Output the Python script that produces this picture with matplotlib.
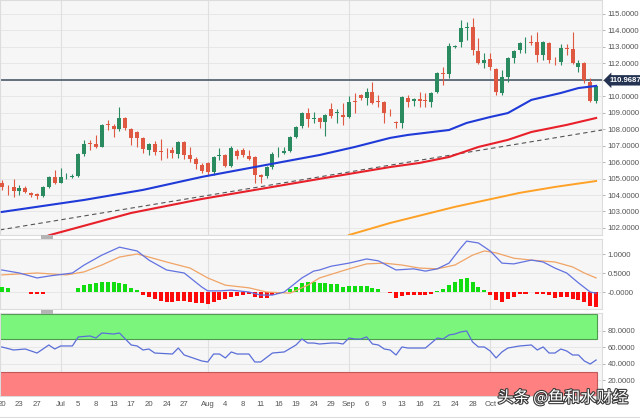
import numpy as np
import matplotlib
matplotlib.use("Agg")
import matplotlib.pyplot as plt
import matplotlib.patheffects as pe
from matplotlib.patches import Rectangle
from matplotlib.lines import Line2D

plt.rcParams["font.family"] = ["Liberation Sans", "DejaVu Sans"]

# daily candles (index = trading day on screen)
opens = [104.73, 104.45, 104.49, 104.25, 104.43, 104.12, 104.06, 103.95, 104.49, 105.10,
         104.73, 105.15, 105.12, 105.16, 106.50, 107.16, 107.10, 106.92, 108.32, 108.20,
         108.00, 108.68, 108.00, 107.83, 107.47, 106.74, 107.10, 106.65, 106.58, 106.75,
         106.50, 107.22, 106.43, 106.19, 105.83, 105.95, 105.40, 106.37, 106.43, 105.77,
         106.68, 106.74, 106.37, 106.31, 105.22, 105.16, 105.70, 106.53, 106.55, 106.68,
         107.53, 108.20, 108.98, 108.62, 108.68, 108.44, 109.23, 109.00, 108.86, 108.74,
         109.70, 110.08, 109.90, 110.26, 109.70, 109.65, 109.00, 108.44, 108.38, 109.90,
         109.70, 109.84, 109.78, 109.65, 110.26, 111.42, 111.35, 113.00, 113.30, 114.15,
         114.20, 112.75, 112.02, 112.26, 111.66, 110.20, 111.17, 112.33, 112.80, 113.28,
         113.30, 113.30, 112.50, 113.24, 112.10, 112.08, 112.93, 112.87, 111.78, 112.02,
         110.87, 109.70]
highs = [104.92, 104.60, 104.98, 104.60, 104.55, 104.20, 104.10, 104.55, 105.15, 105.52,
         105.64, 105.35, 105.30, 106.55, 107.35, 107.35, 107.65, 108.30, 108.55, 108.30,
         109.35, 108.75, 108.10, 107.90, 107.55, 107.15, 107.30, 107.40, 106.85, 106.90,
         107.30, 107.30, 106.90, 106.30, 105.95, 106.00, 106.35, 106.85, 106.50, 107.00,
         106.80, 106.85, 106.74, 106.40, 105.30, 105.75, 106.60, 106.92, 106.92, 107.60,
         108.20, 109.05, 109.30, 109.05, 108.75, 108.90, 109.60, 109.20, 109.60, 110.00,
         110.20, 110.15, 110.50, 110.87, 110.08, 109.70, 109.20, 108.50, 110.00, 110.08,
         109.90, 110.26, 110.20, 110.25, 111.50, 111.80, 113.25, 113.10, 114.65, 114.50,
         114.75, 113.55, 112.60, 112.60, 111.70, 111.60, 112.40, 112.80, 113.30, 113.60,
         113.70, 113.90, 113.35, 113.30, 112.40, 113.20, 113.20, 113.90, 112.20, 112.10,
         111.10, 110.70]
lows = [104.31, 104.00, 103.88, 104.00, 104.10, 103.90, 103.76, 103.85, 104.40, 104.65,
        104.70, 104.95, 105.05, 105.10, 106.40, 106.75, 106.85, 106.90, 107.95, 107.53,
        107.90, 107.95, 107.04, 106.92, 106.56, 106.43, 106.43, 106.13, 106.25, 106.25,
        106.25, 106.19, 106.00, 105.58, 105.34, 105.20, 105.20, 106.13, 105.70, 105.70,
        106.20, 106.30, 106.10, 104.73, 104.73, 105.05, 105.60, 106.30, 106.50, 106.60,
        107.45, 108.10, 108.14, 108.40, 108.07, 107.60, 108.70, 108.40, 108.26, 108.70,
        109.00, 109.80, 109.47, 109.50, 109.35, 108.38, 108.80, 108.07, 108.07, 109.35,
        109.40, 109.35, 109.35, 109.35, 110.20, 110.70, 111.10, 112.95, 113.00, 113.40,
        112.50, 111.95, 111.70, 111.60, 110.08, 110.10, 110.87, 112.02, 112.60, 112.60,
        113.10, 112.10, 112.20, 112.02, 111.90, 111.90, 112.50, 111.95, 111.50, 110.80,
        109.65, 109.60]
closes = [104.49, 104.40, 104.25, 104.43, 104.19, 104.00, 103.94, 104.49, 105.10, 104.73,
          105.10, 105.18, 105.18, 106.50, 107.10, 107.10, 106.92, 108.26, 108.26, 108.00,
          108.68, 108.07, 107.47, 107.47, 106.80, 107.10, 106.62, 106.60, 106.55, 106.55,
          107.22, 106.43, 106.19, 105.89, 105.46, 105.40, 106.31, 106.43, 105.77, 106.86,
          106.37, 106.43, 106.19, 105.22, 105.10, 105.70, 106.50, 106.55, 106.68, 107.53,
          108.14, 108.98, 108.62, 108.68, 108.44, 108.86, 108.80, 109.02, 108.74, 109.65,
          109.65, 109.90, 110.26, 109.60, 109.65, 108.98, 108.98, 108.38, 109.96, 109.65,
          109.84, 109.72, 109.72, 110.20, 111.42, 111.35, 113.06, 113.06, 114.15, 114.20,
          112.80, 112.02, 112.20, 111.78, 110.26, 111.17, 112.33, 112.75, 113.24, 113.30,
          113.24, 112.50, 113.30, 112.20, 112.08, 112.93, 112.87, 112.02, 112.02, 110.99,
          109.70, 110.60]
last_price = 110.9687

# moving averages and trend line, sampled at candle indices
ma_fast_idx = [0, 14, 24, 34, 43, 54, 60, 66, 69, 76, 79, 83, 86, 90, 95, 98, 101]
ma_fast_val = [102.97, 103.70, 104.31, 105.10, 105.70, 106.43, 106.92, 107.47, 107.65,
               107.95, 108.38, 108.74, 108.98, 109.78, 110.20, 110.50, 110.63]
ma_mid_idx = [8, 22, 34, 45, 54, 60, 66, 71, 76, 81, 86, 90, 96, 101]
ma_mid_val = [101.55, 102.91, 103.76, 104.43, 104.98, 105.34, 105.70, 105.95, 106.31,
              106.92, 107.35, 107.83, 108.26, 108.68]
ma_slow_idx = [59, 66, 77, 88, 94, 101]
ma_slow_val = [101.57, 102.30, 103.28, 104.13, 104.49, 104.85]
trend_idx = [-0.3, 102.0]
trend_val = [101.88, 107.95]

# MACD panel
macd_idx = [0, 3, 6, 8, 12, 14, 17, 20, 23, 25, 28, 31, 34, 35, 37, 39, 42, 44, 46, 48,
            51, 53, 54, 56, 59, 62, 64, 67, 70, 72, 74, 76, 78, 79, 81, 83, 85, 87, 90,
            92, 94, 96, 98, 100, 101]
macd_val = [0.58, 0.50, 0.37, 0.42, 0.50, 0.71, 0.97, 1.18, 1.08, 0.84, 0.58, 0.50, 0.13,
            0.03, 0.03, 0.05, 0.00, -0.08, -0.08, 0.00, 0.37, 0.55, 0.58, 0.68, 0.76, 0.87,
            0.82, 0.58, 0.61, 0.55, 0.61, 0.76, 1.16, 1.34, 1.29, 1.08, 0.76, 0.74, 0.84,
            0.79, 0.63, 0.50, 0.24, 0.00, -0.03]
signal_idx = [0, 6, 11, 14, 17, 20, 23, 25, 28, 32, 35, 38, 42, 45, 49, 52, 54, 59, 62,
              65, 68, 71, 74, 77, 80, 82, 84, 87, 90, 94, 97, 99, 101]
signal_val = [0.45, 0.50, 0.45, 0.53, 0.71, 0.92, 1.00, 0.92, 0.79, 0.63, 0.37, 0.18, 0.11,
              0.00, -0.03, 0.18, 0.37, 0.61, 0.74, 0.76, 0.71, 0.63, 0.61, 0.71, 0.97, 1.08,
              1.03, 0.89, 0.84, 0.79, 0.66, 0.50, 0.37]
hist = [0.13, 0.10, 0.01, 0.01, 0.01, -0.05, -0.06, -0.05, -0.01, -0.01,
        0.00, 0.01, 0.01, 0.10, 0.18, 0.21, 0.23, 0.27, 0.27, 0.27,
        0.25, 0.20, 0.10, 0.05, -0.08, -0.12, -0.18, -0.24, -0.25, -0.25,
        -0.24, -0.24, -0.25, -0.28, -0.30, -0.31, -0.27, -0.21, -0.18, -0.12,
        -0.10, -0.08, -0.06, -0.12, -0.17, -0.17, -0.08, -0.05, 0.01, 0.07,
        0.14, 0.25, 0.27, 0.27, 0.25, 0.23, 0.20, 0.20, 0.14, 0.16,
        0.16, 0.16, 0.16, 0.11, 0.07, 0.00, -0.03, -0.15, -0.10, -0.09,
        -0.09, -0.09, -0.08, -0.06, 0.03, 0.08, 0.18, 0.27, 0.33, 0.36,
        0.27, 0.14, 0.05, -0.08, -0.21, -0.25, -0.18, -0.12, -0.05, -0.04,
        -0.01, -0.04, -0.04, -0.08, -0.15, -0.14, -0.14, -0.18, -0.21, -0.27,
        -0.38, -0.40]

# RSI panel
rsi_idx = [0, 2, 4, 6, 8, 9, 10, 12, 13, 15, 16, 17, 19, 20, 22, 23, 24, 25, 26, 29,
           30, 31, 34, 35, 36, 37, 38, 39, 40, 42, 43, 44, 46, 48, 50, 51, 52, 53, 54, 56,
           57, 58, 59, 60, 61, 62, 63, 64, 65, 66, 67, 68, 69, 72, 73, 74, 75, 76, 77, 78,
           79, 80, 81, 82, 83, 84, 85, 86, 88, 90, 91, 92, 93, 94, 95, 96, 97, 98, 99, 100,
           101]
rsi_val = [60.4, 56.7, 57.9, 53.0, 62.8, 57.9, 61.6, 61.6, 72.6, 73.8, 71.3, 77.4, 76.2,
           77.4, 62.8, 61.6, 56.7, 57.9, 53.0, 51.8, 59.1, 50.6, 43.3, 42.1, 51.8, 51.8,
           47.0, 54.3, 51.8, 51.8, 42.1, 42.1, 53.0, 54.3, 62.8, 70.1, 65.2, 65.2, 64.0,
           65.2, 65.2, 64.0, 71.3, 70.1, 70.0, 72.6, 64.0, 62.8, 57.9, 56.7, 50.6, 60.4,
           59.1, 59.1, 65.2, 71.3, 70.1, 75.0, 76.2, 78.7, 79.9, 66.5, 60.4, 60.4, 55.5,
           47.0, 54.3, 59.1, 61.6, 62.8, 56.7, 60.4, 53.0, 53.0, 57.9, 55.5, 50.6, 50.6,
           43.3, 39.6, 44.5]

tick_pos = [0, 3, 6, 10, 13, 16, 19, 22, 25, 28, 31, 35, 38, 41, 44, 47, 50, 53, 56, 59,
            62, 65, 68, 71, 74, 77, 80, 83]
tick_lab = ["20", "23", "27", "Jul", "5", "8", "13", "17", "20", "24", "27", "Aug", "4",
            "8", "11", "16", "19", "24", "29", "Sep", "6", "9", "13", "16", "21", "24",
            "28", "Oct"]
month_pos = [10, 35, 59, 83]

W, H = 640, 420
XLIM = (-0.3, 102.0)
BG = "#f6f6f6"
UP, DOWN = "#2a8a60", "#de5842"

fig = plt.figure(figsize=(6.4, 4.2), dpi=100)
fig.patch.set_facecolor("white")


def panel(top, bottom):
    return fig.add_axes([0, 1 - bottom / H, 602 / W, (bottom - top) / H])


def style(ax, ylim, yticks, ylabels):
    ax.set_facecolor(BG)
    ax.set_xlim(XLIM)
    ax.set_ylim(ylim)
    for s in ax.spines.values():
        s.set_color("#dcdcdc")
        s.set_linewidth(0.8)
    ax.yaxis.tick_right()
    ax.set_yticks(yticks)
    ax.set_yticklabels(ylabels)
    ax.tick_params(axis="y", length=2.5, width=0.6, color="#aaaaaa",
                   labelsize=5.6, labelcolor="#555555", pad=1.5)
    ax.tick_params(axis="x", length=0)
    ax.set_xticks([])
    for v in yticks:
        ax.axhline(v, color="#e5e5e5", lw=0.6, zorder=0)
    for m in month_pos:
        ax.axvline(m, color="#e0e0e0", lw=0.8, zorder=0)


# --- price panel
ax = panel(0, 235)
price_ticks = list(range(102, 116))
# the 111 label sits under the last-price tag, so it is left blank
style(ax, (101.57, 115.85), price_ticks,
      ["" if p == 111 else f"{p:.4f}" for p in price_ticks])

x = np.arange(len(closes))
o, h, l, c = map(np.array, (opens, highs, lows, closes))
cols = np.where(c >= o, UP, DOWN)
ax.vlines(x, l, h, colors=cols, lw=0.8, zorder=3)
body = np.maximum(np.abs(c - o), 0.03)
ax.bar(x, body, bottom=np.minimum(o, c), width=0.68, color=cols, zorder=4)

ax.plot(trend_idx, trend_val, color="#555555", lw=0.8, ls=(0, (4, 3)), zorder=2)
ax.plot(ma_slow_idx, ma_slow_val, color="#ffa126", lw=1.4, zorder=2)
ax.plot(ma_mid_idx, ma_mid_val, color="#e8202a", lw=1.5, zorder=2)
ax.plot(ma_fast_idx, ma_fast_val, color="#1f3ad8", lw=1.5, zorder=5)
ax.axhline(last_price, color="#4b5a6a", lw=1.2, zorder=2)
ax.text(1.012, last_price, f"{last_price:.4f}", transform=ax.get_yaxis_transform(),
        ha="left", va="center", fontsize=5.6, fontweight="bold", color="white",
        bbox=dict(boxstyle="larrow,pad=0.22", fc="#243352", ec="none"), clip_on=False,
        zorder=10)

# --- MACD panel
am = panel(239, 309)
style(am, (-0.447, 1.395), [0, 0.5, 1.0], ["-0.0000", "0.5000", "1.0000"])
hv = np.array(hist)
am.bar(x, hv, width=0.68, color=np.where(hv >= 0, "#11dd11", "#ff0a0a"), zorder=3)
am.plot(signal_idx, signal_val, color="#f0a466", lw=0.9, zorder=4)
am.plot(macd_idx, macd_val, color="#6272e0", lw=0.9, zorder=4)

# --- RSI panel
ar = panel(313, 396)
style(ar, (0.6, 101.8), [20, 40, 60, 80], ["20.0000", "40.0000", "60.0000", "80.0000"])
band_w = 101.2 - XLIM[0]
ar.add_patch(Rectangle((XLIM[0], 70), band_w, 30, fc="#7cf57c", ec="#4e9a4e", lw=0.8, zorder=1))
ar.add_patch(Rectangle((XLIM[0], 0), band_w, 30, fc="#ff8080", ec="#c05a5a", lw=0.8, zorder=1))
ar.plot(rsi_idx, rsi_val, color="#5a6ed8", lw=0.9, zorder=4)
ar.set_xticks(tick_pos)
ar.set_xticklabels(tick_lab)
ar.tick_params(axis="x", length=0, labelsize=5.6, labelcolor="#555555", pad=3.5)

# panel splitter handles and bottom rule
for yy in (235, 310):
    fig.add_artist(Rectangle((41 / W, 1 - (yy + 3.5) / H), 12 / W, 3.5 / H,
                             transform=fig.transFigure, fc="#b4b4b4", ec="none"))
fig.add_artist(Line2D([0, 1], [1 - 417 / H] * 2, transform=fig.transFigure,
                      color="#dddddd", lw=0.8))

fig.text(563 / W, 1 - 398 / H, "头条 @鱼和水财经", ha="center", va="center",
         fontsize=11.5, color="white", family=["Noto Sans CJK SC", "DejaVu Sans"],
         path_effects=[pe.withStroke(linewidth=1.6, foreground="#3a3a3a")])

fig.savefig("out.png", dpi=100, facecolor="white")
